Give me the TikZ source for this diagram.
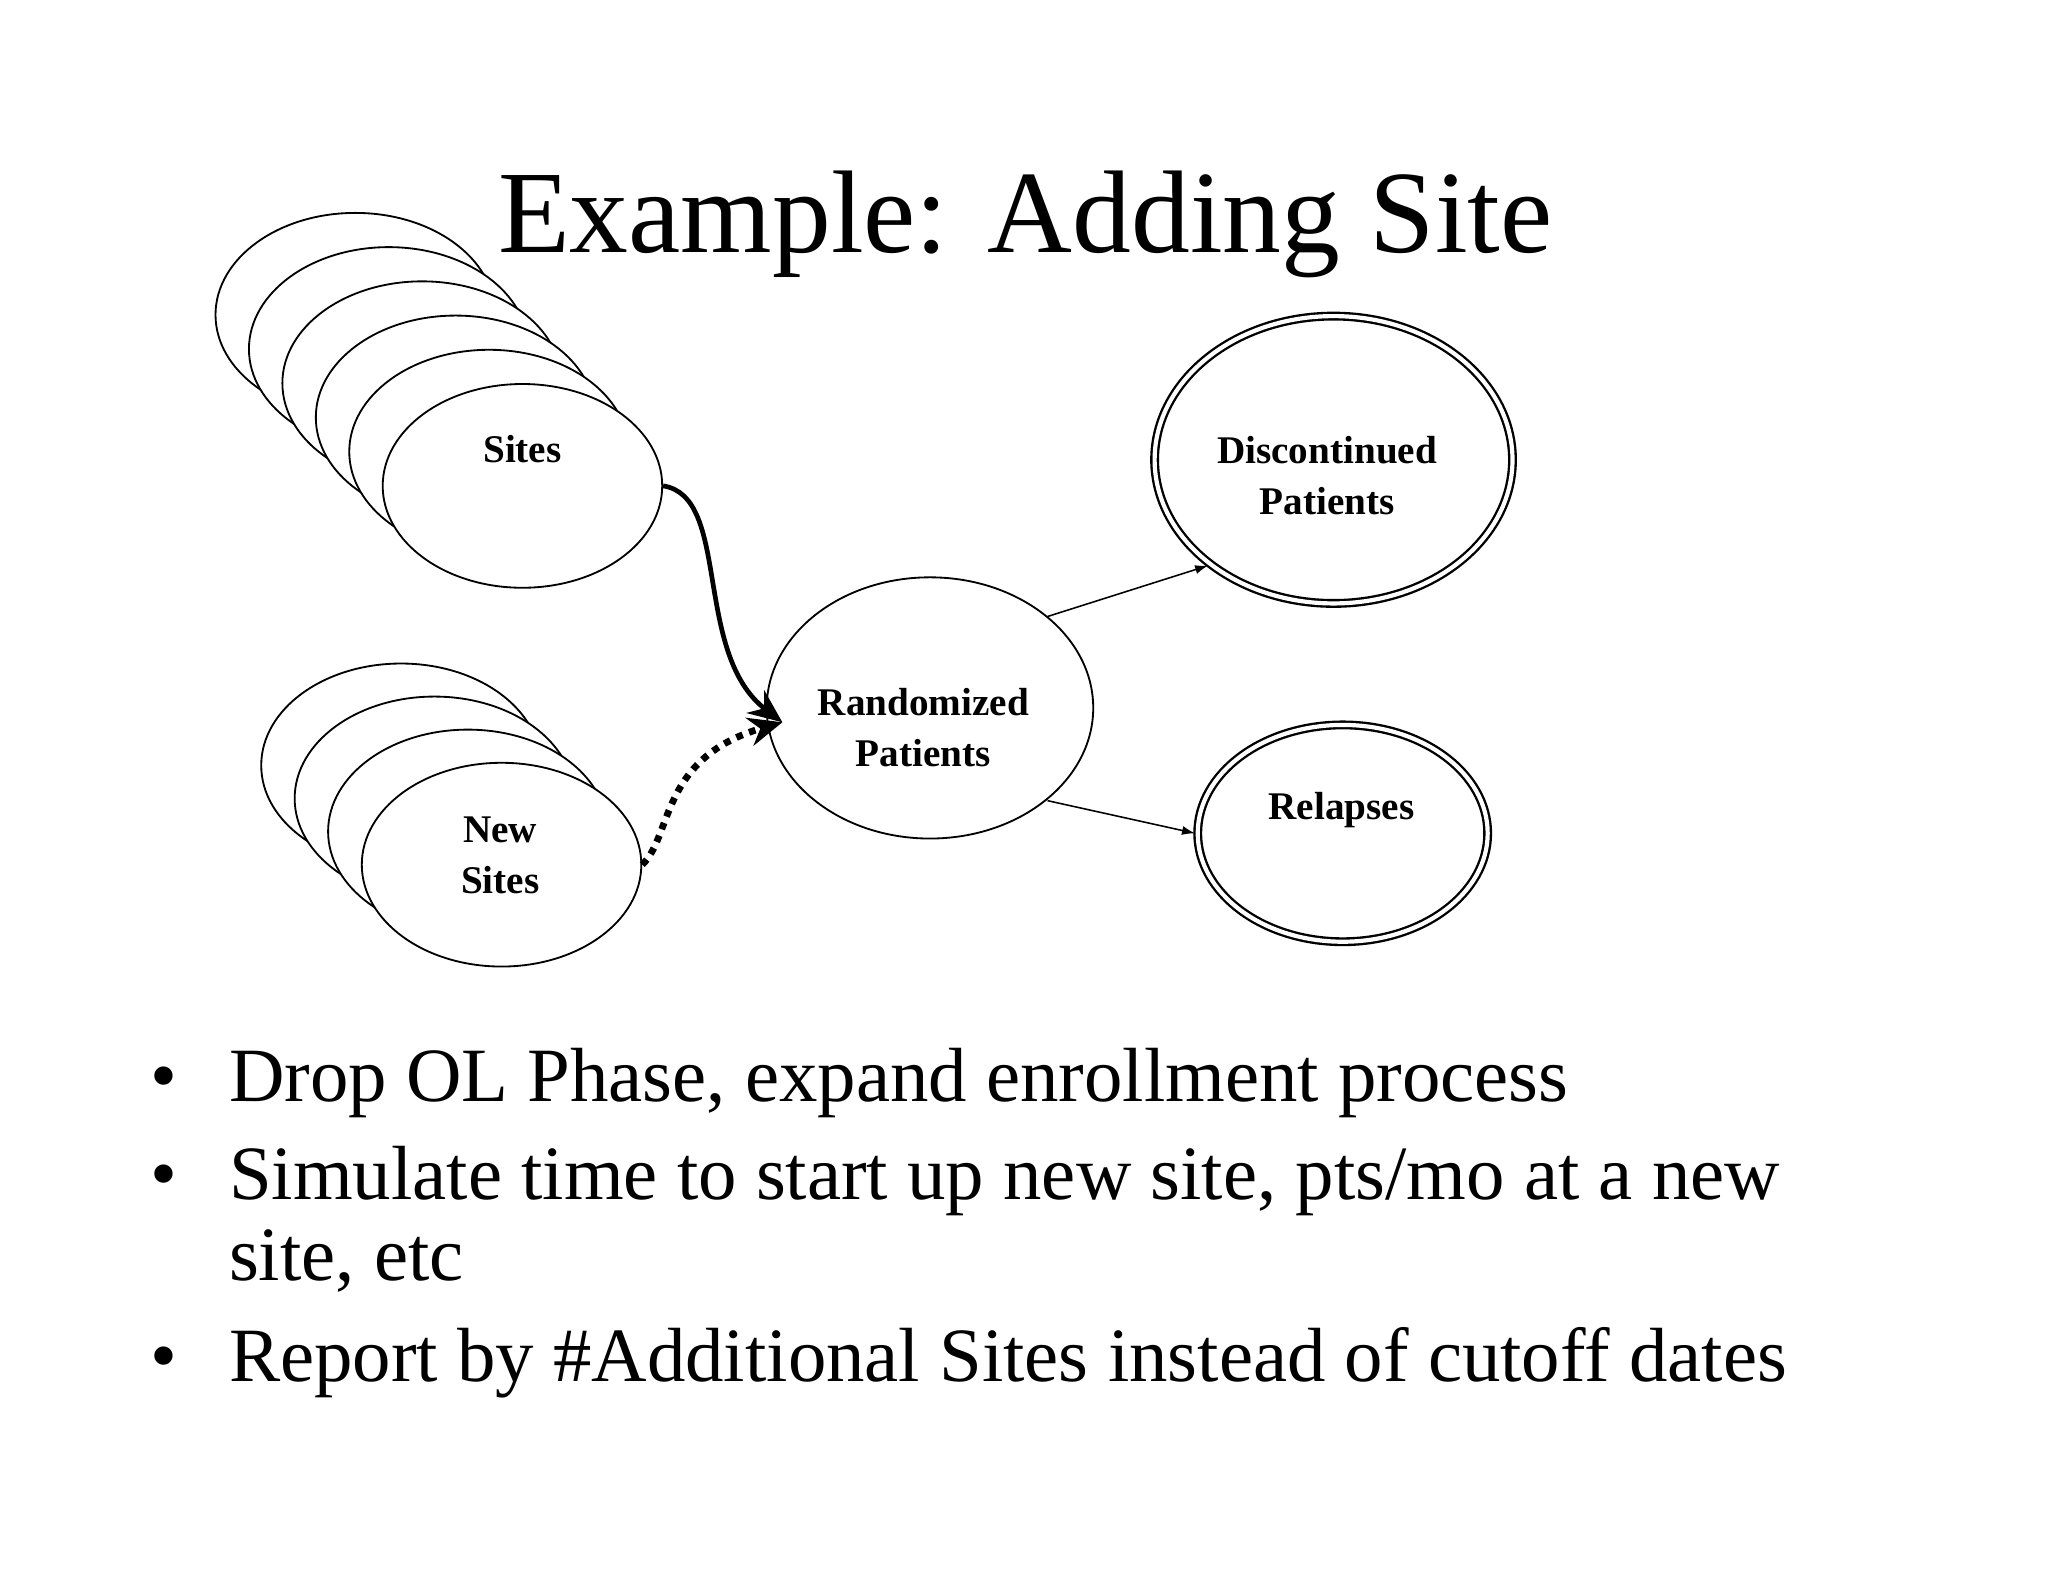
\documentclass[tikz,border=0pt]{standalone}
\usepackage{fontspec}
\setmainfont{Liberation Serif}
\usetikzlibrary{shapes.geometric,arrows.meta}
\begin{document}
\begin{tikzpicture}[x=0.5pt,y=-0.5pt,
  ell/.style={ellipse,draw,fill=white,line width=0.7pt,font=\fontsize{15}{19.5}\selectfont\bfseries,align=center,inner sep=0pt},
  dbl/.style={ell,double,double distance=1.6pt,line width=0.9pt},
  thin/.style={-{Latex[length=5pt,width=3.5pt]},line width=0.6pt},
  bul/.style={anchor=base west,inner sep=0pt,font=\fontsize{29.4}{34}\selectfont}]
\useasboundingbox (0,0) rectangle (1568,1211);
\foreach \i in {0,...,4}{
  \node[ell,minimum width=107pt,minimum height=78pt] (s\i) at ({272+25.6*\i},{241+26.2*\i}) {};}
\node[ell,minimum width=107pt,minimum height=78pt] (sites) at (400,372) {};
\node[font=\fontsize{15}{18}\selectfont\bfseries] (sitesl) at (400,344) {Sites};
\foreach \i in {0,...,2}{
  \node[ell,minimum width=107pt,minimum height=78pt] (n\i) at ({307+25.6*\i},{586+25.3*\i}) {};}
\node[ell,minimum width=107pt,minimum height=78pt] (newsites) at (384,662) {};
\node[font=\fontsize{15}{19.5}\selectfont\bfseries,align=center] (newl) at (383,655) {New\\Sites};
\node[ell,minimum width=125pt,minimum height=100pt] (rand) at (712,542) {};
\node[font=\fontsize{15}{19.5}\selectfont\bfseries,align=center] (randl) at (707,557) {Randomized\\Patients};
\node[dbl,minimum width=137pt,minimum height=110pt] (disc) at (1021,352) {};
\node[font=\fontsize{15}{19.5}\selectfont\bfseries,align=center] (discl) at (1016,364) {Discontinued\\Patients};
\node[dbl,minimum width=111pt,minimum height=83pt] (rel) at (1028,638) {};
\node[font=\fontsize{15}{18}\selectfont\bfseries] (rell) at (1027,620) {Relapses};
\coordinate (tip) at (599,553);
\draw[line width=1.8pt,-{Stealth[length=13pt,width=11pt]}] (sites.east) .. controls (560,380) and (530,500) .. (tip);
\draw[line width=2.6pt,dash pattern=on 2.6pt off 2.6pt,-{Stealth[length=13pt,width=11pt]}] (newsites.east) .. controls (515,640) and (505,580) .. (tip);
\draw[thin] (802,472) -- (925,433);
\draw[thin] (802,613) -- (915,638);
\node[font=\fontsize{45}{50}\selectfont] (title) at (785,172) {Example: Adding Site};
\node[bul] (b1) at (115,843) {•};
\node[bul] (t1) at (175,843) {Drop OL Phase, expand enrollment process};
\node[bul] (b2) at (115,918) {•};
\node[bul] (t2) at (175,918) {Simulate time to start up new site, pts/mo at a new};
\node[bul] (t2b) at (175,980) {site, etc};
\node[bul] (b3) at (115,1058) {•};
\node[bul] (t3) at (175,1058) {Report by \#Additional Sites instead of cutoff dates};
\end{tikzpicture}
\end{document}
